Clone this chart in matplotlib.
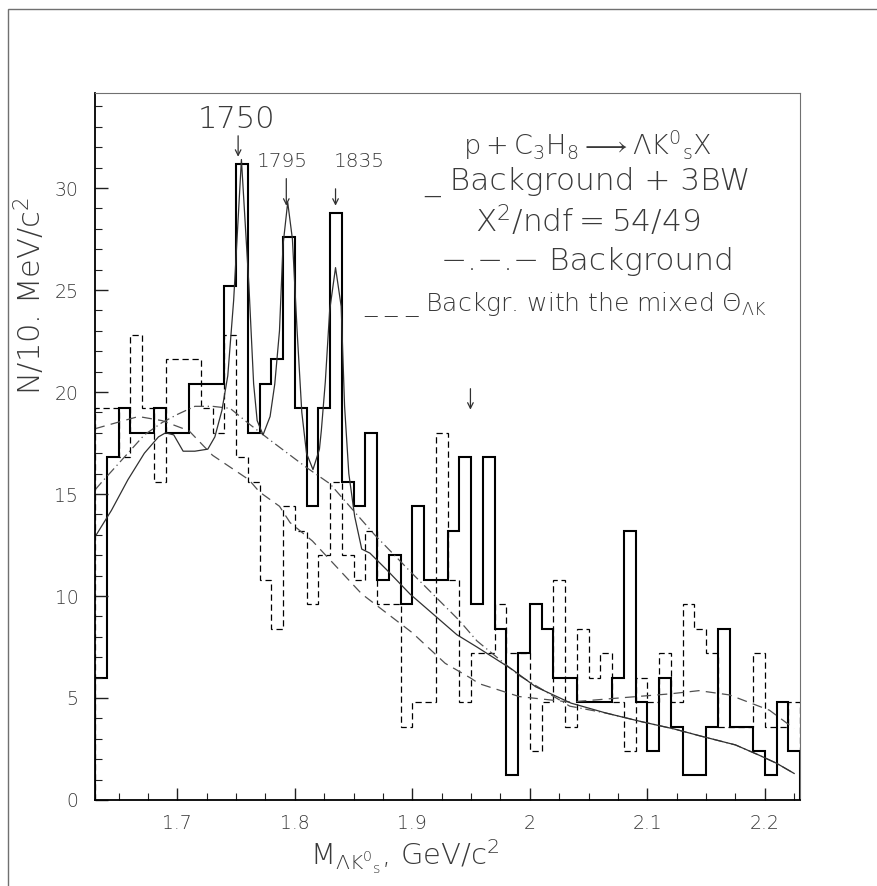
import numpy as np
import matplotlib
matplotlib.use("Agg")
import matplotlib.pyplot as plt
from matplotlib.patches import Rectangle

# histogram data, 10 MeV bins from 1.63 to 2.23 GeV
bin_edges = np.round(np.linspace(1.63, 2.23, 61), 2)
counts = [6.0, 16.8, 19.2, 18.0, 18.0, 19.2, 18.0, 18.0, 20.4, 20.4,
          20.4, 25.2, 31.2, 18.0, 20.4, 21.6, 27.6, 19.2, 14.4, 19.2,
          28.8, 15.6, 14.4, 18.0, 10.8, 12.0, 9.6, 14.4, 10.8, 10.8,
          13.2, 16.8, 9.6, 16.8, 8.4, 1.2, 7.2, 9.6, 8.4, 6.0,
          6.0, 4.8, 4.8, 4.8, 6.0, 13.2, 4.8, 2.4, 6.0, 3.6,
          1.2, 1.2, 3.6, 8.4, 3.6, 3.6, 2.4, 1.2, 4.8, 2.4]
mixed_counts = [19.2, 19.2, 16.8, 22.8, 19.2, 15.6, 21.6, 21.6, 21.6, 19.2,
                18.0, 22.8, 16.8, 15.6, 10.8, 8.4, 14.4, 13.2, 9.6, 12.0,
                15.6, 12.0, 10.8, 13.2, 9.6, 9.6, 3.6, 4.8, 4.8, 18.0,
                10.8, 4.8, 7.2, 7.2, 9.6, 7.2, 7.2, 2.4, 4.8, 10.8,
                3.6, 8.4, 6.0, 7.2, 4.8, 2.4, 6.0, 4.8, 7.2, 4.8,
                9.6, 8.4, 7.2, 3.6, 3.6, 3.6, 7.2, 3.6, 3.6, 4.8]

# fit: background + 3 BW
fit_x = [1.630, 1.644, 1.658, 1.672, 1.684, 1.690, 1.697, 1.705, 1.715, 1.726,
         1.732, 1.738, 1.743, 1.748, 1.7546, 1.761, 1.765, 1.768, 1.773, 1.779,
         1.783, 1.787, 1.790, 1.794, 1.798, 1.802, 1.806, 1.810, 1.8155, 1.821,
         1.8226, 1.826, 1.8297, 1.8347, 1.8395, 1.8424, 1.846, 1.851, 1.857, 1.864,
         1.878, 1.898, 1.918, 1.938, 1.955, 1.985, 2.005, 2.035, 2.065, 2.095,
         2.123, 2.145, 2.175, 2.195, 2.21, 2.225]
fit_y = [12.9, 14.2, 15.7, 17.0, 17.8, 18.0, 17.9, 17.1, 17.1, 17.2,
         17.8, 19.1, 20.8, 24.5, 31.4, 25.2, 20.4, 18.6, 17.9, 18.8,
         20.4, 23.0, 27.2, 29.3, 27.5, 23.0, 19.0, 17.0, 16.2, 17.2,
         18.1, 20.5, 24.0, 26.1, 24.2, 19.3, 16.0, 13.9, 12.3, 12.1,
         11.3, 10.1, 9.1, 8.1, 7.5, 6.4, 5.55, 4.75, 4.26, 3.84,
         3.48, 3.14, 2.7, 2.2, 1.8, 1.3]

# background of the fit
bg_x = [1.630, 1.636, 1.658, 1.672, 1.687, 1.700, 1.715, 1.730, 1.745, 1.762,
        1.780, 1.810, 1.830, 1.868, 1.900, 1.940, 1.955, 1.991, 2.034, 2.065,
        2.095, 2.123, 2.145, 2.175, 2.195, 2.21, 2.225]
bg_y = [15.2, 15.6, 17.0, 17.9, 18.5, 18.9, 19.3, 19.3, 19.2, 18.4,
        17.6, 16.3, 15.5, 13.0, 11.1, 8.8, 7.8, 6.1, 4.6, 4.26,
        3.84, 3.48, 3.14, 2.7, 2.2, 1.8, 1.3]

# background with the mixed Theta
mix_x = [1.630, 1.636, 1.667, 1.687, 1.710, 1.730, 1.761, 1.770, 1.787, 1.796,
         1.815, 1.857, 1.900, 1.928, 1.949, 1.957, 1.991, 2.034, 2.076, 2.119,
         2.144, 2.170, 2.204, 2.225]
mix_y = [18.2, 18.3, 18.8, 18.6, 18.1, 16.9, 15.7, 15.1, 14.4, 13.6,
         12.7, 10.1, 8.2, 6.7, 6.0, 5.7, 5.07, 4.8, 5.0, 5.2,
         5.36, 5.15, 4.4, 3.5]

# peak markers
peak_names = ['1750', '1795', '1835']
peak_pos = [1.7518, 1.7928, 1.8347]
x_ticks = [1.7, 1.8, 1.9, 2.0, 2.1, 2.2]
x_labels = ['1.7', '1.8', '1.9', '2', '2.1', '2.2']
y_ticks = [0, 5, 10, 15, 20, 25, 30]

plt.rcParams['font.family'] = ['DejaVu Sans']
plt.rcParams['font.weight'] = 'light'
plt.rcParams['mathtext.default'] = 'regular'
txt = '#3a3a3a'

fig = plt.figure(figsize=(8.78, 8.86), dpi=100)
ax = fig.add_axes([0.1082, 0.0971, 0.8030, 0.7979])

ax.stairs(mixed_counts, bin_edges, baseline=0, color='black', lw=0.9,
          linestyle=(0, (5, 3)))
ax.stairs(counts, bin_edges, baseline=0, color='black', lw=1.5)
ax.plot(mix_x, mix_y, color='#505050', lw=0.9, linestyle=(0, (8, 5)))
ax.plot(bg_x, bg_y, color='#505050', lw=0.9, linestyle=(0, (8, 3, 1, 3)))
ax.plot(fit_x, fit_y, color='#303030', lw=0.9)

ax.set_xlim(1.63, 2.23)
ax.set_ylim(0, 34.66)

ax.set_xticks(x_ticks)
ax.set_xticklabels(x_labels)
ax.set_xticks(np.arange(1.65, 2.23, 0.025), minor=True)
ax.set_yticks(y_ticks)
ax.set_yticks(np.arange(0, 35, 1), minor=True)
ax.tick_params(which='both', direction='in', top=False, right=False,
               labelsize=13.5, labelcolor=txt, color='#202020')
ax.tick_params(which='major', length=9, width=1.0)
ax.tick_params(which='minor', length=5, width=0.8)
ax.tick_params(axis='y', pad=12)
ax.tick_params(axis='x', pad=10)
ax.spines['left'].set_linewidth(1.3)
ax.spines['bottom'].set_linewidth(1.3)
ax.spines['top'].set_color('#707070')
ax.spines['right'].set_color('#707070')

# peak labels and arrows
ax.text(1.7506, 32.65, peak_names[0], fontsize=22, color=txt,
        ha='center', va='bottom')
ax.annotate('', xy=(peak_pos[0], 31.4), xytext=(peak_pos[0], 32.7),
            arrowprops=dict(arrowstyle='->', color='#303030', lw=0.9))
ax.text(1.7897, 30.85, peak_names[1], fontsize=14.5, color=txt,
        ha='center', va='bottom')
ax.annotate('', xy=(peak_pos[1], 29.0), xytext=(peak_pos[1], 30.6),
            arrowprops=dict(arrowstyle='->', color='#303030', lw=0.9))
ax.text(1.8551, 30.85, peak_names[2], fontsize=14.5, color=txt,
        ha='center', va='bottom')
ax.annotate('', xy=(peak_pos[2], 29.0), xytext=(peak_pos[2], 30.1),
            arrowprops=dict(arrowstyle='->', color='#303030', lw=0.9))
ax.annotate('', xy=(1.9495, 19.0), xytext=(1.9495, 20.3),
            arrowprops=dict(arrowstyle='->', color='#303030', lw=0.9))

# text block
tx = 2.049
ax.text(tx, 32.1, r'$p+C_3H_8 \longrightarrow \Lambda K^{0}{}_{s}X$',
        fontsize=19.5, color=txt, ha='center', va='center')
ax.text(tx, 30.3, '_ Background + 3BW', fontsize=22.5, color=txt,
        ha='center', va='center')
ax.text(tx, 28.4, r'$X^{2}/ndf=54/49$', fontsize=22.5, color=txt,
        ha='center', va='center')
ax.text(tx, 26.4, '−.−.− Background', fontsize=22.5, color=txt,
        ha='center', va='center')
ax.text(2.03, 24.3, r'_ _ _ Backgr. with the mixed $\Theta_{\Lambda K}$',
        fontsize=18, color=txt, ha='center', va='center')

# axis titles
fig.text(30 / 878, 1 - 296 / 886, 'N/10. MeV/c$^{2}$', rotation=90,
         fontsize=22, color=txt, ha='center', va='center')
fig.text(405 / 878, 1 - 857 / 886, r'$M_{\Lambda K^{0}{}_{s}}$, GeV/c$^{2}$',
         fontsize=21, color=txt, ha='center', va='center')

# outer frame
fig.patches.append(Rectangle((8 / 878, -0.1), 1.2, 1.1 - 9 / 886,
                             transform=fig.transFigure, fill=False,
                             edgecolor='#707070', lw=1.0))

fig.savefig('out.png', dpi=100, facecolor='white')
